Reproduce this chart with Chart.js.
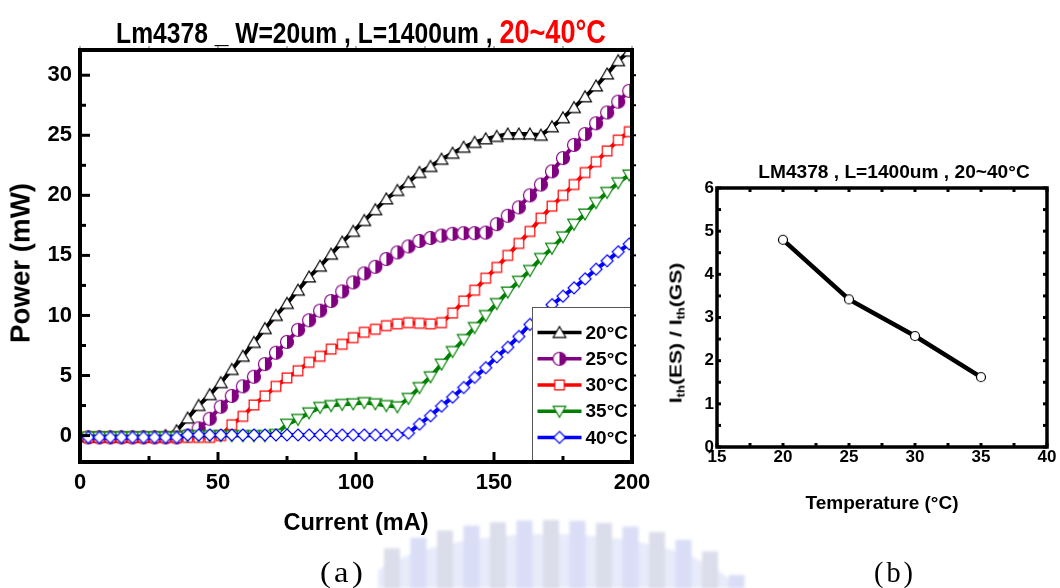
<!DOCTYPE html>
<html>
<head>
<meta charset="utf-8">
<title>Lm4378 L-I curves</title>
<script src="https://cdn.jsdelivr.net/npm/chart.js@4.4.1/dist/chart.umd.min.js"></script>
<style>
  html, body { margin: 0; padding: 0; background: #fff; }
  #page { position: relative; width: 1060px; height: 588px; overflow: hidden; }
  canvas { position: absolute; }
  .lbl {
    position: absolute; white-space: nowrap; line-height: 1; color: #000;
    font-family: 'Liberation Sans', Arial, sans-serif; font-weight: bold;
    transform: translate(-50%, -50%);
  }
  .lbl sub { font-size: 62%; vertical-align: -0.3em; line-height: 0; }
  .cap { font-family: 'Liberation Serif', 'DejaVu Serif', serif; font-weight: normal; letter-spacing: 3px; }
</style>
</head>
<body>
<div id="page">
  <canvas id="crest" width="1060" height="588" style="left:0;top:0"></canvas>
  <canvas id="liChart" width="660" height="540" style="left:0;top:0"></canvas>
  <canvas id="ratioChart" width="400" height="380" style="left:660px;top:140px"></canvas>

  <div class="lbl" style="left:361px;top:31px;font-size:30px" data-w="490">Lm4378 _ W=20um , L=1400um , <span style="color:#ff0000;font-size:33px">20~40°C</span></div>
  <div class="lbl" style="left:21px;top:263px;font-size:27px" data-w="160" data-rot="-90">Power (mW)</div>
  <div class="lbl" style="left:356px;top:522px;font-size:24px" data-w="145">Current (mA)</div>

  <div class="lbl" style="left:894px;top:171px;font-size:19px" data-w="272">LM4378 , L=1400um , 20~40°C</div>
  <div class="lbl" style="left:676px;top:333px;font-size:17px" data-w="140" data-rot="-90">I<sub>th</sub>(ES) / I<sub>th</sub>(GS)</div>
  <div class="lbl" style="left:882px;top:502px;font-size:19px" data-w="153">Temperature (°C)</div>

  <div class="lbl cap" style="left:343px;top:572px;font-size:29px" data-w="46">(a)</div>
  <div class="lbl cap" style="left:895px;top:572px;font-size:29px" data-w="42">(b)</div>
</div>

<script>
// L-I sweep, one marker every 4 mA
const currentMA = [3, 7, 11, 15, 19, 23, 27, 31, 35, 39,
  43, 47, 51, 55, 59, 63, 67, 71, 75, 79,
  83, 87, 91, 95, 99, 103, 107, 111, 115, 119,
  123, 127, 131, 135, 139, 143, 147, 151, 155, 159,
  163, 167, 171, 175, 179, 183, 187, 191, 195, 199];

const power20C = [-0.1, -0.1, -0.1, -0.1, -0.1, -0.1, -0.1, 0.0, 0.4, 1.45,
  2.5, 3.4, 4.4, 5.5, 6.6, 7.75, 8.9, 10.0, 11.0, 12.1,
  13.2, 14.1, 15.1, 16.1, 17.0, 17.9, 18.8, 19.7, 20.4, 21.1,
  21.9, 22.4, 23.0, 23.5, 24.0, 24.4, 24.7, 24.9, 25.1, 25.1,
  25.1, 25.0, 25.7, 26.45, 27.3, 28.2, 29.1, 30.1, 31.2, 32.0];

const power25C = [-0.15, -0.15, -0.15, -0.15, -0.15, -0.15, -0.15, -0.15, -0.15, 0.0,
  0.6, 1.4, 2.4, 3.3, 4.1, 4.9, 5.95, 6.9, 7.8, 8.8,
  9.6, 10.4, 11.2, 12.0, 12.75, 13.5, 14.05, 14.7, 15.25, 15.75,
  16.2, 16.45, 16.65, 16.8, 16.85, 16.85, 16.9, 17.6, 18.3, 19.0,
  20.0, 20.9, 22.0, 23.1, 24.2, 25.1, 26.0, 26.9, 27.8, 28.7];

const power30C = [-0.15, -0.15, -0.15, -0.15, -0.15, -0.15, -0.15, -0.15, -0.15, -0.15,
  -0.15, -0.15, 0.0, 0.9, 1.6, 2.55, 3.3, 4.1, 4.8, 5.4,
  6.1, 6.6, 7.2, 7.6, 8.15, 8.6, 8.85, 9.15, 9.3, 9.4,
  9.35, 9.3, 9.4, 10.2, 11.2, 12.1, 13.1, 14.0, 15.0, 16.0,
  17.0, 18.1, 19.1, 20.0, 20.9, 21.9, 22.8, 23.7, 24.6, 25.3];

const power35C = [-0.1, -0.1, -0.1, -0.1, -0.1, -0.1, -0.1, -0.1, -0.1, 0.0,
  0.0, 0.0, 0.0, 0.0, 0.0, 0.0, 0.0, 0.1, 0.95, 1.35,
  1.9, 2.35, 2.5, 2.6, 2.65, 2.75, 2.65, 2.5, 2.4, 3.1,
  4.0, 4.9, 5.95, 7.0, 8.0, 9.0, 10.0, 11.0, 11.95, 12.85,
  13.75, 14.75, 15.6, 16.55, 17.6, 18.45, 19.4, 20.25, 21.05, 21.7];

const power40C = [-0.15, -0.15, -0.15, -0.15, -0.15, -0.15, -0.15, -0.15, -0.15, 0.05,
  0.05, 0.05, 0.05, 0.05, 0.05, 0.05, 0.05, 0.05, 0.05, 0.05,
  0.05, 0.05, 0.05, 0.05, 0.05, 0.05, 0.05, 0.05, 0.05, 0.2,
  0.95, 1.65, 2.45, 3.2, 4.0, 4.85, 5.65, 6.55, 7.35, 8.25,
  9.25, 10.1, 10.9, 11.6, 12.3, 13.05, 13.85, 14.55, 15.3, 15.95];

const seriesLabels = ['20°C', '25°C', '30°C', '35°C', '40°C'];
const seriesColors = ['#000000', '#800080', '#ff0000', '#008000', '#0000ff'];
const markerShapes = ['up', 'half', 'square', 'down', 'diamond'];

const currentTicks = [0, 50, 100, 150, 200];
const currentMinor = [25, 75, 125, 175];
const powerTicks = [0, 5, 10, 15, 20, 25, 30];
const powerMinor = [2.5, 7.5, 12.5, 17.5, 22.5, 27.5];

// threshold ratio excited state / ground state
const temperatureC = [20, 25, 30, 35];
const ithRatio = [4.8, 3.42, 2.57, 1.62];
const tempTicks = [15, 20, 25, 30, 35, 40];
const tempMinor = [17.5, 22.5, 27.5, 32.5, 37.5];
const ratioTicks = [0, 1, 2, 3, 4, 5, 6];
const ratioMinor = [0.5, 1.5, 2.5, 3.5, 4.5, 5.5];

const FONT = "'Liberation Sans', Arial, sans-serif";
Chart.defaults.font.family = FONT;
Chart.defaults.color = '#000';

// small open markers, drawn once and reused as point images
function makeMarker(shape, color, size) {
  const c = document.createElement('canvas');
  c.width = c.height = 18;
  const g = c.getContext('2d');
  const r = size / 2;
  g.translate(9, 9);
  g.lineWidth = 1.2;
  g.strokeStyle = color;
  g.fillStyle = '#fff';
  const path = () => {
    g.beginPath();
    if (shape === 'up') { g.moveTo(0, -r); g.lineTo(r * 1.05, r * 0.8); g.lineTo(-r * 1.05, r * 0.8); g.closePath(); }
    else if (shape === 'down') { g.moveTo(0, r); g.lineTo(r * 1.05, -r * 0.8); g.lineTo(-r * 1.05, -r * 0.8); g.closePath(); }
    else if (shape === 'square') { g.rect(-r * 0.8, -r * 0.8, r * 1.6, r * 1.6); }
    else if (shape === 'diamond') { g.moveTo(0, -r); g.lineTo(r, 0); g.lineTo(0, r); g.lineTo(-r, 0); g.closePath(); }
    else { g.arc(0, 0, r, 0, Math.PI * 2); }
  };
  path();
  g.fill();
  if (shape === 'half') {
    g.fillStyle = color;
    g.beginPath();
    g.arc(0, 0, r, -Math.PI / 2, Math.PI / 2);
    g.closePath();
    g.fill();
  }
  path();
  g.stroke();
  return c;
}

// closed frame with tick marks on all four sides
const boxAxes = {
  id: 'boxAxes',
  afterDatasetsDraw(chart, args, o) {
    const { ctx, chartArea: a, scales: { x, y } } = chart;
    const seg = (x1, y1, x2, y2) => { ctx.beginPath(); ctx.moveTo(x1, y1); ctx.lineTo(x2, y2); ctx.stroke(); };
    ctx.save();
    ctx.strokeStyle = '#000';
    ctx.lineWidth = o.tickWidth;
    const xs = o.xMajor.map(v => [v, o.major]).concat(o.xMinor.map(v => [v, o.minor]));
    const ys = o.yMajor.map(v => [v, o.major]).concat(o.yMinor.map(v => [v, o.minor]));
    xs.forEach(([v, len]) => {
      const p = x.getPixelForValue(v);
      seg(p, a.bottom, p, a.bottom - len);
      if (o.allIn) seg(p, a.top, p, a.top + len);
    });
    ys.forEach(([v, len]) => {
      const p = y.getPixelForValue(v);
      seg(a.left, p, a.left + len, p);
      if (o.allIn) seg(a.right, p, a.right - len, p);
    });
    if (!o.allIn) {
      ctx.lineWidth = 2;
      ys.forEach(([v]) => { const p = y.getPixelForValue(v); seg(a.right, p, a.right + 4, p); });
      ctx.strokeStyle = '#999';
      ctx.lineWidth = 1.5;
      xs.forEach(([v]) => { const p = x.getPixelForValue(v); seg(p, a.top, p, a.top - 4); });
      ctx.strokeStyle = '#000';
    }
    ctx.lineWidth = o.frame;
    ctx.strokeRect(a.left, a.top, a.right - a.left, a.bottom - a.top);
    ctx.restore();
  }
};

// boxed legend in the lower right corner of the plot
const tempLegend = {
  id: 'tempLegend',
  afterDatasetsDraw(chart) {
    const { ctx, chartArea: a } = chart;
    const left = a.right - 100, top = a.bottom - 155;
    ctx.save();
    ctx.fillStyle = '#fff';
    ctx.fillRect(left, top, a.right - left, a.bottom - top);
    ctx.strokeStyle = '#555';
    ctx.lineWidth = 1;
    ctx.strokeRect(Math.round(left) + 0.5, Math.round(top) + 0.5, a.right - left, a.bottom - top);
    ctx.font = 'bold 19px ' + FONT;
    ctx.textBaseline = 'middle';
    chart.data.datasets.forEach((ds, i) => {
      const cy = top + 25.6 + i * 26.2;
      ctx.strokeStyle = ds.borderColor;
      ctx.lineWidth = 3.5;
      ctx.beginPath();
      ctx.moveTo(left + 5.5, cy);
      ctx.lineTo(left + 49.5, cy);
      ctx.stroke();
      const img = ds.pointStyle;
      ctx.drawImage(img, left + 27.5 - img.width / 2, cy - img.height / 2);
      ctx.fillStyle = '#000';
      ctx.fillText(ds.label, left + 53.5, cy + 1);
    });
    ctx.restore();
  }
};

const liSeries = [power20C, power25C, power30C, power35C, power40C];

new Chart(document.getElementById('liChart'), {
  type: 'line',
  data: {
    datasets: liSeries.map((vals, i) => ({
      label: seriesLabels[i],
      data: currentMA.map((c, j) => ({ x: c, y: vals[j] })),
      borderColor: seriesColors[i],
      borderWidth: 4,
      pointStyle: makeMarker(markerShapes[i], seriesColors[i], markerShapes[i] === 'half' ? 13 : 12),
      pointRadius: 6,
      tension: 0,
      order: 5 - i
    }))
  },
  options: {
    responsive: false,
    animation: false,
    events: [],
    layout: { padding: { left: 0, top: 50, right: 28, bottom: 0 } },
    plugins: {
      legend: { display: false },
      tooltip: { enabled: false },
      boxAxes: { frame: 4, tickWidth: 3, major: 10, minor: 6, allIn: false,
        xMajor: currentTicks, xMinor: currentMinor, yMajor: powerTicks, yMinor: powerMinor }
    },
    scales: {
      x: {
        type: 'linear', min: 0, max: 200,
        afterBuildTicks: s => { s.ticks = currentTicks.map(v => ({ value: v })); },
        afterFit: s => { s.height = 78; },
        grid: { display: false, drawTicks: false },
        border: { display: false },
        ticks: { font: { size: 22, weight: 'bold' }, color: '#000', padding: 8, maxRotation: 0 }
      },
      y: {
        type: 'linear', min: -2.2, max: 32.1,
        afterBuildTicks: s => { s.ticks = powerTicks.map(v => ({ value: v })); },
        afterFit: s => { s.width = 80; },
        grid: { display: false, drawTicks: false },
        border: { display: false },
        ticks: { font: { size: 22, weight: 'bold' }, color: '#000', padding: 8 }
      }
    }
  },
  plugins: [tempLegend, boxAxes]
});

new Chart(document.getElementById('ratioChart'), {
  type: 'line',
  data: {
    datasets: [{
      label: 'Ith(ES)/Ith(GS)',
      data: temperatureC.map((t, j) => ({ x: t, y: ithRatio[j] })),
      borderColor: '#000',
      borderWidth: 4.5,
      pointStyle: makeMarker('circle', '#000', 9),
      pointRadius: 5,
      tension: 0
    }]
  },
  options: {
    responsive: false,
    animation: false,
    events: [],
    layout: { padding: { left: 0, top: 48, right: 13, bottom: 0 } },
    plugins: {
      legend: { display: false },
      tooltip: { enabled: false },
      boxAxes: { frame: 3.5, tickWidth: 3, major: 4, minor: 4, allIn: true,
        xMajor: tempTicks, xMinor: tempMinor, yMajor: ratioTicks, yMinor: ratioMinor }
    },
    scales: {
      x: {
        type: 'linear', min: 15, max: 40,
        afterBuildTicks: s => { s.ticks = tempTicks.map(v => ({ value: v })); },
        afterFit: s => { s.height = 73; },
        grid: { display: false, drawTicks: false },
        border: { display: false },
        ticks: { font: { size: 17, weight: 'bold' }, color: '#000', padding: 0, maxRotation: 0 }
      },
      y: {
        type: 'linear', min: 0, max: 6,
        afterBuildTicks: s => { s.ticks = ratioTicks.map(v => ({ value: v })); },
        afterFit: s => { s.width = 57; },
        grid: { display: false, drawTicks: false },
        border: { display: false },
        ticks: { font: { size: 17, weight: 'bold' }, color: '#000', padding: 3 }
      }
    }
  },
  plugins: [boxAxes]
});

// stretch or squeeze each caption to its set length
function fitLabels() {
  document.querySelectorAll('[data-w]').forEach(el => {
    const k = +el.dataset.w / el.offsetWidth;
    const rot = el.dataset.rot ? ' rotate(' + el.dataset.rot + 'deg)' : '';
    el.style.transform = 'translate(-50%, -50%)' + rot + ' scaleX(' + k.toFixed(3) + ')';
  });
}
fitLabels();
document.fonts.ready.then(fitLabels);

// faint crest printed behind the captions
(function drawCrest() {
  const g = document.getElementById('crest').getContext('2d');
  const dome = x => {
    const t = (x - 548) / 192;
    return 588 - 68 * Math.sqrt(Math.max(0, 1 - t * t));
  };
  g.filter = 'blur(1.5px)';
  g.fillStyle = 'rgb(232, 235, 250)';
  g.beginPath();
  g.moveTo(378, 588);
  for (let x = 378; x <= 742; x += 4) g.lineTo(x, dome(x) + 14);
  g.lineTo(742, 588);
  g.closePath();
  g.fill();
  for (let i = 0; i < 14; i++) {
    const cx = 392 + i * 26.5;
    const top = dome(cx);
    g.fillStyle = i % 2 ? 'rgb(217, 221, 246)' : 'rgb(219, 221, 234)';
    g.fillRect(cx - 8, top, 16, 588 - top);
  }
})();
</script>
</body>
</html>
